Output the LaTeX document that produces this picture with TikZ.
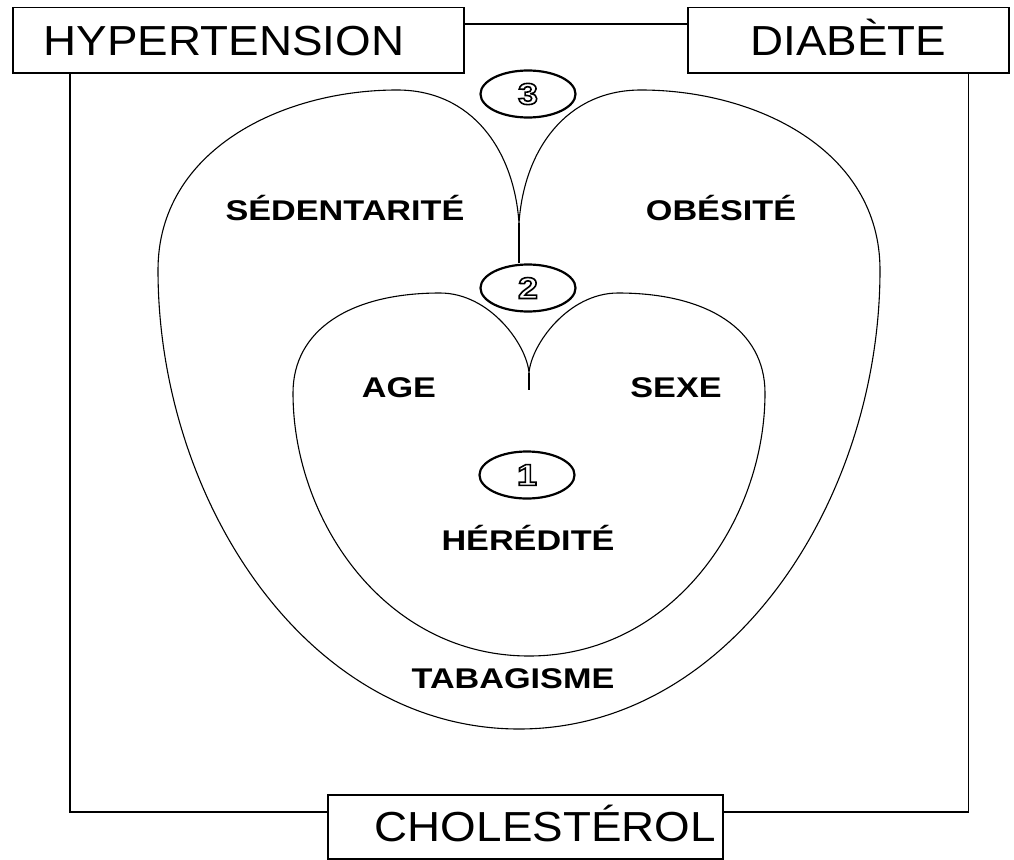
\documentclass[tikz,border=0pt]{standalone}
\usepackage{fontspec}
\setmainfont{Liberation Sans}
\newfontfamily\boxfont{Liberation Sans}[FakeStretch=1.09]
\newfontfamily\labelfont{Liberation Sans}[FakeStretch=1.2]
\newcommand\hollow[1]{\textcolor{white}{\special{pdf:literal direct 2 Tr 0 G 1.6 w}#1\special{pdf:literal direct 0 Tr}}}
\usetikzlibrary{shapes.geometric}

\begin{document}
\begin{tikzpicture}[x=1pt,y=-1pt,
  riskbox/.style={draw,line width=1.5pt,rectangle,inner sep=0pt,text height=30pt,text depth=0pt,font=\boxfont\fontsize{42}{44}\selectfont},
  factor/.style={anchor=base,inner sep=0pt,font=\labelfont\bfseries\fontsize{28.5}{30}\selectfont},
  level/.style={draw,ellipse,line width=2.2pt,minimum width=95pt,minimum height=47pt,inner sep=0pt,font=\labelfont\bfseries\fontsize{30}{30}\selectfont},
  heart/.style={line width=1.1pt},
  link/.style={line width=1.5pt}]
\useasboundingbox (0,0) rectangle (1014,859);

\node[riskbox,anchor=north west,minimum height=65pt,text width=389pt,inner xsep=31pt,align=left] (hyp) at (12,7) {HYPERTENSION};
\node[riskbox,anchor=north west,minimum width=321pt,minimum height=65pt] (dia) at (687,7) {DIABÈTE};
\node[riskbox,anchor=north west,minimum height=64pt,text width=381pt,inner xsep=7pt,align=right] (chol) at (327,794) {CHOLESTÉROL};

\draw[link] ([yshift=-17pt]hyp.north east) -- ([yshift=-17pt]dia.north west);
\draw[link] ([xshift=58pt]hyp.south west) |- ([yshift=-18pt]chol.north west);
\draw[link] ([xshift=-41pt]dia.south east) |- ([yshift=-18pt]chol.north east);

\node[level] (c3) at (528,94) {\hollow{3}};
\node[level] (c2) at (528,288) {\hollow{2}};
\node[level] (c1) at (527,475) {\hollow{1}};

\coordinate (outer cusp) at (519,223);
\draw[heart] (outer cusp) .. controls (514,150) and (472,90) .. (397,90)
  .. controls (282,90) and (158,150) .. (158,270)
  .. controls (158,500) and (307,729) .. (519,729)
  .. controls (731,729) and (880,500) .. (880,270)
  .. controls (880,150) and (756,90) .. (641,90)
  .. controls (566,90) and (524,150) .. (outer cusp);
\draw[heart] (outer cusp) -- (outer cusp |- c2.north);

\coordinate (inner cusp) at (529,373);
\coordinate (inner stem) at (529,390);
\draw[heart] (inner cusp) .. controls (527,345) and (490,293) .. (440,293)
  .. controls (350,293) and (293,330) .. (293,393)
  .. controls (293,520) and (385,656) .. (529,656)
  .. controls (673,656) and (765,520) .. (765,393)
  .. controls (765,330) and (708,293) .. (618,293)
  .. controls (568,293) and (531,345) .. (inner cusp);
\draw[heart] (inner cusp) -- (inner stem);

\node[factor] (sedent) at (345,220) {SÉDENTARITÉ};
\node[factor] (obesite) at (721,220) {OBÉSITÉ};
\node[factor] (age) at (399,397) {AGE};
\node[factor] (sexe) at (676,397) {SEXE};
\node[factor] (heredite) at (528,550) {HÉRÉDITÉ};
\node[factor] (tabac) at (513,688) {TABAGISME};

\end{tikzpicture}
\end{document}
